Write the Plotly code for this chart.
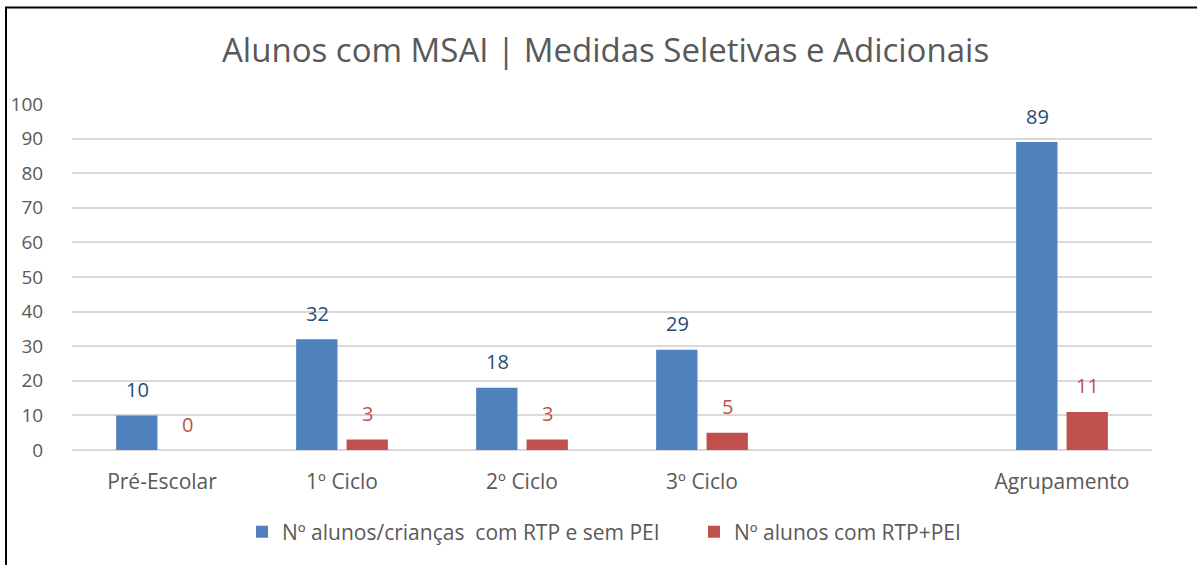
import plotly.graph_objects as go

# Níveis de ensino (a coluna em branco separa o total do agrupamento)
categories = ["Pré-Escolar", "1º Ciclo", "2º Ciclo", "3º Ciclo", " ", "Agrupamento"]
rtp_sem_pei = [10, 32, 18, 29, None, 89]
rtp_com_pei = [0, 3, 3, 5, None, 11]
y_ticks = [0, 10, 20, 30, 40, 50, 60, 70, 80, 90, 100]

series_names = ["Nº alunos/crianças\u00a0 com RTP e sem PEI", "Nº alunos com RTP+PEI"]
bar_colors = ["#4F81BD", "#C0504D"]
label_colors = ["#1F4E79", "#C0504D"]

FONT = "Open Sans"
GREY = "#595959"

fig = go.Figure()
for name, vals, col in zip(series_names, [rtp_sem_pei, rtp_com_pei], bar_colors):
    fig.add_trace(go.Bar(
        x=categories, y=vals, name=name,
        marker=dict(color=col, line=dict(width=0)),
    ))

# Rótulos de valor acima de cada barra
annotations = []
for vals, col, shift in zip([rtp_sem_pei, rtp_com_pei], label_colors, [-25, 25]):
    for cat, v in zip(categories, vals):
        if v is None:
            continue
        annotations.append(dict(
            x=cat, y=v, xref="x", yref="y", text=str(v), showarrow=False,
            xshift=shift, yshift=26, yanchor="middle",
            font=dict(family=FONT, size=20, color=col),
        ))

def px_x(px):
    return (px - 72) / 1080

def px_y(py):
    return (450 - py) / 346

# Título
annotations.append(dict(
    x=px_x(605), y=px_y(50), xref="paper", yref="paper",
    text="Alunos com MSAI | Medidas Seletivas e Adicionais",
    showarrow=False, xanchor="center", yanchor="middle",
    font=dict(family=FONT, size=33, color=GREY),
))

shapes = [
    dict(type="line", xref="paper", yref="paper",
         x0=px_x(6), y0=px_y(566), x1=px_x(6), y1=px_y(7.5),
         line=dict(color="black", width=2)),
    dict(type="line", xref="paper", yref="paper",
         x0=px_x(5), y0=px_y(7.5), x1=px_x(1200), y1=px_y(7.5),
         line=dict(color="black", width=2)),
]

fig.update_layout(
    width=1197, height=565,
    margin=dict(l=72, r=45, t=104, b=115, pad=0, autoexpand=False),
    paper_bgcolor="white", plot_bgcolor="white",
    barmode="group", bargap=0.44, bargroupgap=0.18,
    font=dict(family=FONT, color=GREY),
    showlegend=True,
    legend=dict(
        orientation="h", x=px_x(242), xanchor="left", y=px_y(532), yanchor="middle",
        font=dict(family=FONT, size=21, color=GREY),
        itemwidth=30, entrywidth=407, entrywidthmode="pixels", traceorder="normal",
    ),
    annotations=annotations,
    shapes=shapes,
)

fig.update_xaxes(
    type="category", categoryorder="array", categoryarray=categories,
    showgrid=False, showline=False, zeroline=False,
    ticks="outside", ticklen=13, tickcolor="rgba(0,0,0,0)",
    tickfont=dict(family=FONT, size=21, color=GREY),
)
fig.update_yaxes(
    range=[0, 100], tickvals=y_ticks, ticktext=[str(t) for t in y_ticks],
    showgrid=True, gridcolor="#D9D9D9", gridwidth=2,
    zeroline=True, zerolinecolor="#D9D9D9", zerolinewidth=2,
    showline=False,
    ticks="outside", ticklen=24, tickcolor="rgba(0,0,0,0)",
    tickfont=dict(family=FONT, size=19, color=GREY),
)

fig.write_html("out.html")
